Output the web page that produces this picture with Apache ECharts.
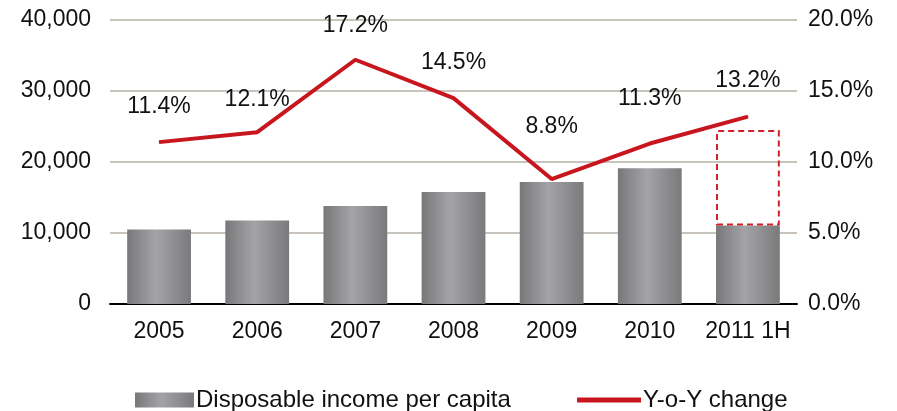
<!DOCTYPE html>
<html><head><meta charset="utf-8">
<script src="https://cdn.jsdelivr.net/npm/echarts@6/dist/echarts.min.js"></script>
<style>html,body{margin:0;padding:0;background:#fff}#c{width:897px;height:411px}</style>
</head><body><div id="c"></div>
<script>
const categories = ['2005','2006','2007','2008','2009','2010','2011 1H'];
const income = [10493, 11759, 13786, 15781, 17175, 19109, 11041];
const yoy = [11.4, 12.1, 17.2, 14.5, 8.8, 11.3, 13.2];
const leftTicks = [0, 10000, 20000, 30000, 40000];
const boxCategory = '2011 1H';
const boxTop = 24500;

const font = 'Liberation Sans, Arial, sans-serif';
const FS = 23;
const labelDist = [23, 21, 22, 23, 40, 33, 24];
const chart = echarts.init(document.getElementById('c'), null, {renderer:'canvas'});
const barGrad = new echarts.graphic.LinearGradient(0,0,1,0,[
  {offset:0,color:'#78787a'},{offset:0.45,color:'#a4a4a8'},{offset:1,color:'#7a7a7c'}]);
const boxData = categories.map((c,i)=> c===boxCategory ? boxTop - income[i] : null);
const lineData = yoy.map((v,i)=>({value:v,label:{distance:labelDist[i]}}));

chart.setOption({
  animation:false,
  textStyle:{fontFamily:font},
  grid:{left:110,right:100,top:20,bottom:107},
  legend:[
    {left:130, top:383, itemWidth:59, itemHeight:15, itemGap:5,
     textStyle:{fontSize:24,color:'#111',fontFamily:font,padding:[0,0,0,-3]},
     data:[{name:'Disposable income per capita',icon:'rect'}]},
    {left:572, top:383, itemWidth:64, itemHeight:5, itemGap:5,
     textStyle:{fontSize:24,color:'#111',fontFamily:font,padding:[0,0,0,-3]},
     data:[{name:'Y-o-Y change',icon:'rect',itemStyle:{color:'#c8161e'}}]}
  ],
  xAxis:{type:'category',data:categories,
    axisLine:{lineStyle:{color:'#000',width:2}},axisTick:{show:false},
    axisLabel:{fontSize:FS,color:'#111',margin:16,fontFamily:font,interval:0}},
  yAxis:[
    {type:'value',min:0,max:40000,interval:10000,
     axisLabel:{fontSize:FS,color:'#111',margin:19,fontFamily:font,
       formatter:v=>leftTicks.includes(v)?v.toLocaleString('en-US'):''},
     splitLine:{lineStyle:{color:'#c9c3bd',width:2}},axisLine:{show:false},axisTick:{show:false}},
    {type:'value',min:0,max:20,interval:5,position:'right',
     axisLabel:{fontSize:FS,color:'#111',margin:11,fontFamily:font,formatter:v=>v.toFixed(1)+'%'},
     splitLine:{show:false},axisLine:{show:false},axisTick:{show:false}}
  ],
  series:[
    {name:'Disposable income per capita',type:'bar',data:income,barWidth:'65%',stack:'s',
     itemStyle:{color:barGrad},z:2},
    {name:'box',type:'bar',data:boxData,stack:'s',barWidth:'65%',
     itemStyle:{color:'rgba(0,0,0,0)',borderColor:'#d0202a',borderWidth:2,borderType:[6,4]},z:3},
    {name:'Y-o-Y change',type:'line',yAxisIndex:1,data:lineData,symbol:'circle',symbolSize:1,showSymbol:true,
     lineStyle:{color:'#c8161e',width:4},itemStyle:{color:'#c8161e'},z:5,
     label:{show:true,position:'top',fontSize:FS,color:'#111',fontFamily:font,
       formatter:p=>p.value.toFixed(1)+'%'}}
  ]
});
</script></body></html>
